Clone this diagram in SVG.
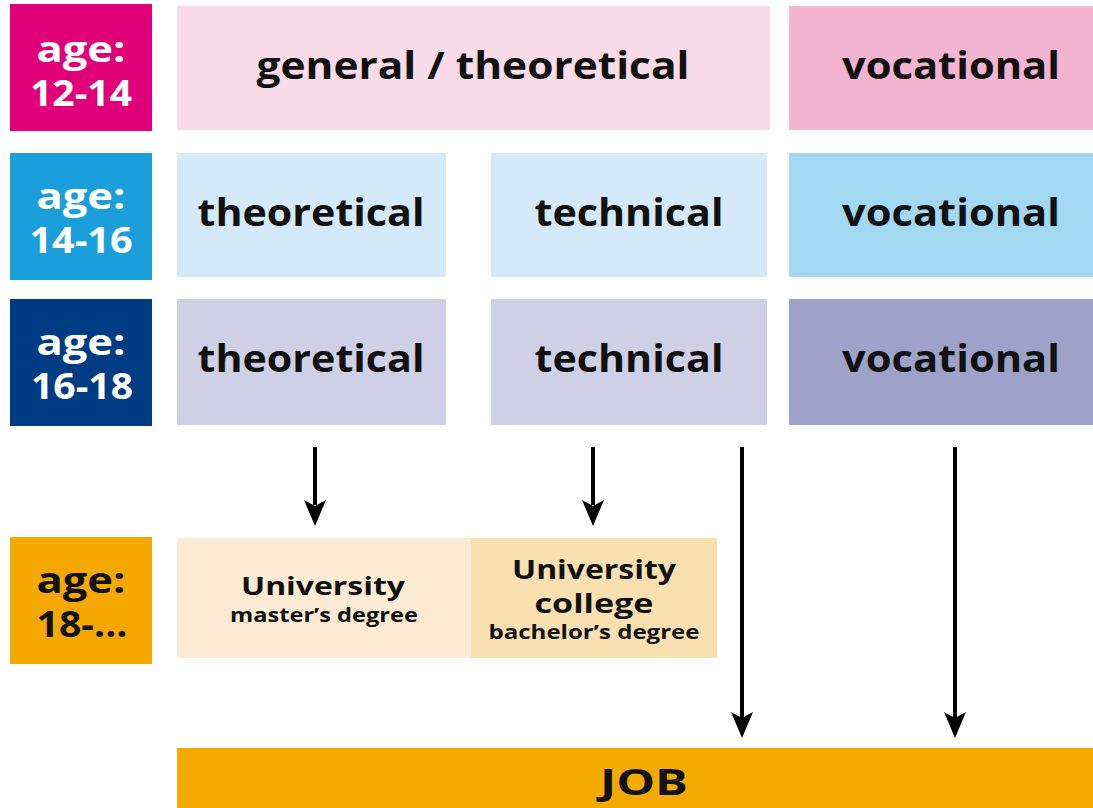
<svg xmlns="http://www.w3.org/2000/svg" width="1093" height="808" viewBox="0 0 1093 808">
<defs>
<style>
text{font-family:"Open Sans","DejaVu Sans",sans-serif;font-weight:700;text-anchor:middle}
.age{fill:#fff;font-size:35px}
.age.dark{fill:#111}
.lbl{fill:#111;font-size:38px}
.u1{fill:#111;font-size:27px}
.u2{fill:#111;font-size:19px}
.arr{stroke:#000;stroke-width:4;fill:none}
</style>
</defs>
<rect width="1093" height="808" fill="#fff"/>
<g id="age-12-14"><rect x="10" y="4" width="142" height="127" fill="#E0007A"/><text class="age" x="81" y="62" textLength="89" lengthAdjust="spacingAndGlyphs">age:</text><text class="age" x="81" y="106" textLength="102" lengthAdjust="spacingAndGlyphs">12-14</text></g>
<g id="age-14-16"><rect x="10" y="153" width="142" height="127" fill="#1A9FDB"/><text class="age" x="81" y="209" textLength="89" lengthAdjust="spacingAndGlyphs">age:</text><text class="age" x="81" y="253" textLength="103" lengthAdjust="spacingAndGlyphs">14-16</text></g>
<g id="age-16-18"><rect x="10" y="299" width="142" height="127" fill="#003C84"/><text class="age" x="81" y="355" textLength="89" lengthAdjust="spacingAndGlyphs">age:</text><text class="age" x="82" y="399" textLength="102" lengthAdjust="spacingAndGlyphs">16-18</text></g>
<g id="age-18"><rect x="10" y="537" width="142" height="127" fill="#F4A800"/><text class="age dark" x="81" y="593" textLength="89" lengthAdjust="spacingAndGlyphs">age:</text><text class="age dark" x="82" y="637" textLength="91" lengthAdjust="spacingAndGlyphs">18-...</text></g>
<g id="general"><rect x="177" y="6" width="593" height="124" fill="#F9DCE7"/><text class="lbl" x="473" y="79" textLength="433" lengthAdjust="spacingAndGlyphs">general / theoretical</text></g>
<g id="voc1"><rect x="789" y="6" width="304" height="124" fill="#F2B4CF"/><text class="lbl" x="951" y="79" textLength="218" lengthAdjust="spacingAndGlyphs">vocational</text></g>
<g id="theo2"><rect x="177" y="153" width="269" height="124" fill="#D4EAF8"/><text class="lbl" x="311" y="226" textLength="227" lengthAdjust="spacingAndGlyphs">theoretical</text></g>
<g id="tech2"><rect x="491" y="153" width="276" height="124" fill="#D4EAF8"/><text class="lbl" x="629" y="226" textLength="189" lengthAdjust="spacingAndGlyphs">technical</text></g>
<g id="voc2"><rect x="789" y="153" width="304" height="124" fill="#A3D8F2"/><text class="lbl" x="951" y="226" textLength="218" lengthAdjust="spacingAndGlyphs">vocational</text></g>
<g id="theo3"><rect x="177" y="299" width="269" height="126" fill="#CFCFE6"/><text class="lbl" x="311" y="372" textLength="227" lengthAdjust="spacingAndGlyphs">theoretical</text></g>
<g id="tech3"><rect x="491" y="299" width="276" height="126" fill="#CFCFE6"/><text class="lbl" x="629" y="372" textLength="189" lengthAdjust="spacingAndGlyphs">technical</text></g>
<g id="voc3"><rect x="789" y="299" width="304" height="126" fill="#9EA2C8"/><text class="lbl" x="951" y="372" textLength="218" lengthAdjust="spacingAndGlyphs">vocational</text></g>
<g id="university"><rect x="177" y="538" width="294" height="120" fill="#FCEBD3"/><text class="u1" x="323" y="595" style="font-size:25px" textLength="164" lengthAdjust="spacingAndGlyphs">University</text><text class="u2" x="324" y="622" textLength="188" lengthAdjust="spacingAndGlyphs">master’s degree</text></g>
<g id="ucollege"><rect x="471" y="538" width="246" height="120" fill="#FADFB1"/><text class="u1" x="594" y="579" textLength="164" lengthAdjust="spacingAndGlyphs">University</text><text class="u1" x="594" y="613" textLength="119" lengthAdjust="spacingAndGlyphs">college</text><text class="u2" x="594" y="639" textLength="211" lengthAdjust="spacingAndGlyphs">bachelor’s degree</text></g>
<g id="job"><rect x="177" y="748" width="916" height="60" fill="#F4AA00"/><text class="lbl" x="644" y="795" style="font-size:36px" textLength="88" lengthAdjust="spacingAndGlyphs">JOB</text></g>
<g id="connectors">
<line class="arr" x1="315" y1="447" x2="315" y2="505"/><path d="M304,500 L315,526 L326,500 L315,506 Z"/>
<line class="arr" x1="593" y1="447" x2="593" y2="505"/><path d="M582,500 L593,526 L604,500 L593,506 Z"/>
<line class="arr" x1="742" y1="447" x2="742" y2="718"/><path d="M731,712 L742,738 L753,712 L742,718 Z"/>
<line class="arr" x1="955" y1="447" x2="955" y2="718"/><path d="M944,712 L955,738 L966,712 L955,718 Z"/>
</g>
</svg>
